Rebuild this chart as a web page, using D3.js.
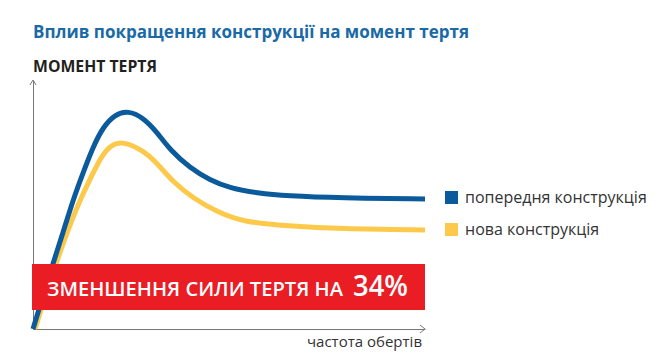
<!DOCTYPE html>
<html><head><meta charset="utf-8">
<script src="https://cdn.jsdelivr.net/npm/d3@7"></script>
<style>
html,body{margin:0;padding:0;background:#fff;}
svg{display:block;font-family:"Open Sans",sans-serif;}
</style></head>
<body>
<svg id="c" width="670" height="363"></svg>
<script>
const title = "Вплив покращення конструкції на момент тертя";
const yLabel = "МОМЕНТ ТЕРТЯ";
const xLabel = "частота обертів";
const seriesNames = ["попередня конструкція", "нова конструкція"];
const seriesColors = ["#0b5a9b", "#fdc94b"];
const bannerText = "ЗМЕНШЕННЯ СИЛИ ТЕРТЯ НА";
const bannerValue = "34%";

const xPrev = [0, 5.10, 7.65, 10.20, 12.76, 15.31, 17.86, 20.92, 24.23, 28.06, 31.63, 34.95, 40.05, 45.15, 50.26, 57.14, 64.80, 78.32, 100];
const yPrev = [0, 26.5, 38.6, 51.8, 62.7, 73.1, 81.1, 86.2, 87.7, 85.0, 79.1, 71.9, 64.7, 59.8, 56.6, 54.6, 53.4, 52.6, 52.2];
const xNew  = [0.51, 5.87, 8.93, 11.99, 15.05, 17.60, 20.15, 22.96, 28.06, 31.63, 35.71, 40.82, 46.94, 53.57, 64.80, 78.32, 100];
const yNew  = [0, 26.5, 39.8, 51.8, 61.8, 69.9, 74.2, 75.3, 71.8, 66.7, 59.0, 52.6, 47.0, 43.0, 41.4, 40.2, 39.8];

const svg = d3.select("#c");
const x = d3.scaleLinear().domain([0, 100]).range([33, 425]);
const y = d3.scaleLinear().domain([0, 100]).range([329, 80]);

// title
svg.append("text").attr("x", 33).attr("y", 38)
  .attr("font-size", 17).attr("font-weight", 700).attr("fill", "#1a6aa6")
  .attr("textLength", 436).attr("lengthAdjust", "spacingAndGlyphs")
  .text(title);
svg.append("text").attr("x", 33).attr("y", 72)
  .attr("font-size", 15.5).attr("font-weight", 700).attr("fill", "#231f20")
  .attr("textLength", 124).attr("lengthAdjust", "spacingAndGlyphs")
  .text(yLabel);

// axes
svg.append("g").attr("transform", `translate(0,${y(0)})`)
  .call(d3.axisBottom(x).tickValues([]).tickSizeOuter(0));
svg.append("g").attr("transform", `translate(${x(0)},0)`)
  .call(d3.axisLeft(y).tickValues([]).tickSizeOuter(0));
svg.selectAll(".domain").attr("stroke", "#777").attr("stroke-width", 1);
svg.append("path")
  .attr("d", `M${x(100)-5},${y(0)-4}L${x(100)},${y(0)}L${x(100)-5},${y(0)+4}`)
  .attr("fill", "none").attr("stroke", "#777").attr("stroke-width", 1);
svg.append("path")
  .attr("d", `M${x(0)-3},${y(100)+5}L${x(0)},${y(100)}L${x(0)+3},${y(100)+5}`)
  .attr("fill", "none").attr("stroke", "#777").attr("stroke-width", 1);

svg.append("text").attr("x", x(100) - 3).attr("y", 347).attr("text-anchor", "end")
  .attr("font-size", 15).attr("fill", "#333").text(xLabel);

// lines
const line = d3.line().x(d => x(d[0])).y(d => y(d[1])).curve(d3.curveBasis);
const series = [d3.zip(xPrev, yPrev), d3.zip(xNew, yNew)];
svg.append("path").datum(series[1]).attr("d", line)
  .attr("fill", "none").attr("stroke", seriesColors[1]).attr("stroke-width", 5);
svg.append("path").datum(series[0]).attr("d", line)
  .attr("fill", "none").attr("stroke", seriesColors[0]).attr("stroke-width", 5);

// banner
svg.append("rect").attr("x", 32).attr("y", 264).attr("width", x(100) - 32).attr("height", 46)
  .attr("fill", "#ea1c24");
svg.append("text").attr("x", 47).attr("y", 296).attr("fill", "#fff")
  .attr("font-size", 19.5).attr("font-weight", 600)
  .attr("textLength", 296).attr("lengthAdjust", "spacingAndGlyphs")
  .text(bannerText);
svg.append("text").attr("x", 353).attr("y", 296).attr("fill", "#fff")
  .attr("font-size", 28).attr("font-weight", 600)
  .attr("textLength", 55).attr("lengthAdjust", "spacingAndGlyphs")
  .text(bannerValue);

// legend
const lg = svg.append("g");
seriesNames.forEach((n, i) => {
  lg.append("rect").attr("x", 445).attr("y", 191 + i * 32).attr("width", 13).attr("height", 13)
    .attr("fill", seriesColors[i]);
  lg.append("text").attr("x", 465).attr("y", 203 + i * 32).attr("font-size", 16)
    .attr("fill", "#333").text(n);
});
</script>
</body></html>
